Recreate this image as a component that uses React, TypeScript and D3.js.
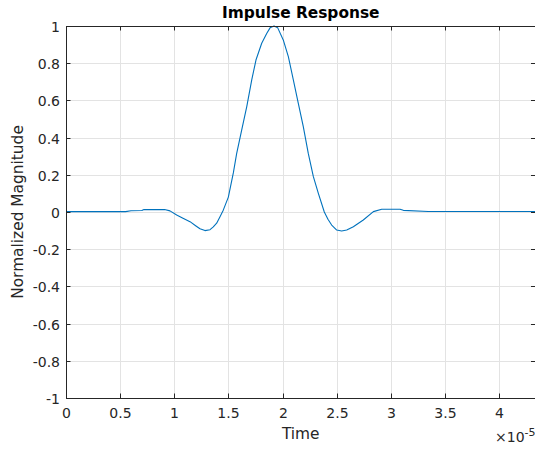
import React from "react";
import * as d3 from "d3";

const timeUnits: number[] = [
  0, 0.55, 0.6, 0.7, 0.72, 0.91, 0.96, 1.022, 1.08, 1.145, 1.2, 1.237, 1.283, 1.33, 1.36, 1.391,
  1.422, 1.452, 1.499, 1.545, 1.576, 1.622, 1.669, 1.715, 1.754, 1.807, 1.853, 1.884, 1.921,
  1.955, 2.006, 2.053, 2.099, 2.145, 2.191, 2.237, 2.284, 2.33, 2.385, 2.42, 2.453, 2.5, 2.545,
  2.592, 2.653, 2.745, 2.838, 2.915, 3.084, 3.115, 3.345, 4.4,
];
const magnitude: number[] = [
  0.002, 0.002, 0.007, 0.008, 0.013, 0.013, 0.006, -0.016, -0.033, -0.052, -0.075, -0.09, -0.1,
  -0.095, -0.08, -0.06, -0.025, 0.01, 0.08, 0.21, 0.315, 0.44, 0.566, 0.71, 0.817, 0.907, 0.96,
  0.99, 1.0, 0.99, 0.925, 0.835, 0.71, 0.584, 0.459, 0.315, 0.19, 0.1, 0.0, -0.04, -0.07,
  -0.097, -0.102, -0.097, -0.079, -0.043, 0.002, 0.015, 0.015, 0.009, 0.003, 0.003,
];
const xTicks: number[] = [0, 0.5, 1, 1.5, 2, 2.5, 3, 3.5, 4];
const yTicks: number[] = [-1, -0.8, -0.6, -0.4, -0.2, 0, 0.2, 0.4, 0.6, 0.8, 1];
const X_SCALE = 1e-5;
const X_MAX = 4.335e-5;

const W = 535;
const H = 449;
const left = 66;
const right = 535.5;
const top = 26;
const bottom = 398;

export default function App() {
  const x = d3.scaleLinear().domain([0, X_MAX]).range([left, right]);
  const y = d3.scaleLinear().domain([-1, 1]).range([bottom, top]);
  const data = timeUnits.map((t, i) => [t * X_SCALE, magnitude[i]] as [number, number]);
  const line = d3
    .line<[number, number]>()
    .x((d) => x(d[0]))
    .y((d) => y(d[1]));
  const axisColor = "#262626";
  const font = "DejaVu Sans, sans-serif";
  const tl = 4.5;
  return (
    <svg
      width={W}
      height={H}
      style={{ position: "absolute", left: 0, top: 0, background: "#fff" }}
      fontFamily={font}
    >
      <rect x={0} y={0} width={W} height={H} fill="#fff" />
      {/* grid */}
      {xTicks.map((t) => (
        <line
          key={"gx" + t}
          x1={Math.round(x(t * X_SCALE)) + 0.5}
          x2={Math.round(x(t * X_SCALE)) + 0.5}
          y1={top}
          y2={bottom}
          stroke="#e3e3e3"
          strokeWidth={1}
        />
      ))}
      {yTicks.map((t) => (
        <line
          key={"gy" + t}
          x1={left}
          x2={right}
          y1={Math.round(y(t)) + 0.5}
          y2={Math.round(y(t)) + 0.5}
          stroke="#e3e3e3"
          strokeWidth={1}
        />
      ))}
      {/* data line */}
      <path d={line(data) || ""} fill="none" stroke="#0072BD" strokeWidth={1.1} strokeLinejoin="round" />
      {/* axes box */}
      <line x1={left} x2={right} y1={top + 0.5} y2={top + 0.5} stroke={axisColor} strokeWidth={1} />
      <line x1={left} x2={right} y1={bottom + 0.5} y2={bottom + 0.5} stroke={axisColor} strokeWidth={1} />
      <line x1={left + 0.5} x2={left + 0.5} y1={top} y2={bottom + 1} stroke={axisColor} strokeWidth={1} />
      <line x1={right} x2={right} y1={top} y2={bottom + 1} stroke={axisColor} strokeWidth={1} />
      {/* x ticks */}
      {xTicks.map((t) => {
        const px = Math.round(x(t * X_SCALE)) + 0.5;
        return (
          <g key={"xt" + t}>
            <line x1={px} x2={px} y1={bottom} y2={bottom - tl} stroke={axisColor} />
            <line x1={px} x2={px} y1={top} y2={top + tl} stroke={axisColor} />
            <text x={px} y={418} textAnchor="middle" fontSize={14} fill={axisColor}>
              {String(t)}
            </text>
          </g>
        );
      })}
      {/* y ticks */}
      {yTicks.map((t) => {
        const py = Math.round(y(t)) + 0.5;
        return (
          <g key={"yt" + t}>
            <line x1={left} x2={left + tl} y1={py} y2={py} stroke={axisColor} />
            <line x1={right} x2={right - tl} y1={py} y2={py} stroke={axisColor} />
            <text x={60} y={py + 5} textAnchor="end" fontSize={14} fill={axisColor}>
              {t === 0 ? "0" : (t < 0 ? "-" : "") + String(Math.abs(t))}
            </text>
          </g>
        );
      })}
      {/* title */}
      <text x={(left + right) / 2} y={18} textAnchor="middle" fontSize={15.4} fontWeight="bold" fill="#000">
        Impulse Response
      </text>
      {/* x label */}
      <text x={(left + right) / 2} y={439} textAnchor="middle" fontSize={15.4} fill={axisColor}>
        Time
      </text>
      {/* exponent */}
      <text x={495} y={442} fontSize={14} fill={axisColor}>
        ×10<tspan dy={-6} fontSize={11}>-5</tspan>
      </text>
      {/* y label */}
      <text
        transform={`translate(23, ${(top + bottom) / 2}) rotate(-90)`}
        textAnchor="middle"
        fontSize={15.4}
        fill={axisColor}
      >
        Normalized Magnitude
      </text>
    </svg>
  );
}
